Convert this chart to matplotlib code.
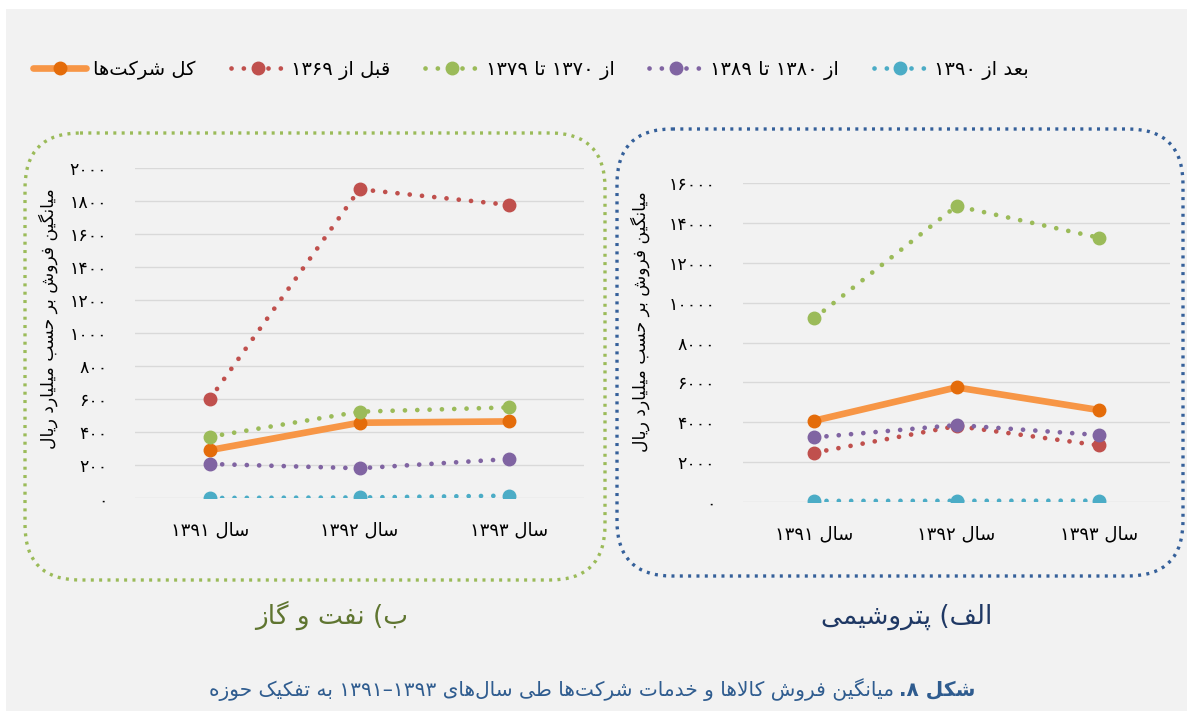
import re
import matplotlib
matplotlib.use("Agg")
import matplotlib.pyplot as plt
from matplotlib.patches import FancyBboxPatch, Rectangle
from matplotlib.ticker import FuncFormatter, MultipleLocator

# --- data -------------------------------------------------------------
years = ["سال ۱۳۹۱", "سال ۱۳۹۲", "سال ۱۳۹۳"]
series_names = ["کل شرکت‌ها", "قبل از ۱۳۶۹", "از ۱۳۷۰ تا ۱۳۷۹",
                "از ۱۳۸۰ تا ۱۳۸۹", "بعد از ۱۳۹۰"]

# oil & gas (left)
oil_total = [292, 458, 466]
oil_before_1369 = [602, 1873, 1778]
oil_1370_1379 = [373, 525, 551]
oil_1380_1389 = [208, 182, 238]
oil_after_1390 = [2, 5, 16]

# petrochemical (right)
petro_total = [4070, 5744, 4607]
petro_before_1369 = [2462, 3802, 2831]
petro_1370_1379 = [9213, 14858, 13266]
petro_1380_1389 = [3233, 3853, 3350]
petro_after_1390 = [40, 45, 50]

y_label = "میانگین فروش بر حسب میلیارد ریال"
title_oil = "ب) نفت و گاز"
title_petro = "الف) پتروشیمی"
caption_bold = "شکل ۸."
caption_rest = "میانگین فروش کالاها و خدمات شرکت‌ها طی سال‌های ۱۳۹۳–۱۳۹۱ به تفکیک حوزه"

# --- minimal arabic/persian shaping (matplotlib has no text shaping) ----
FORMS = {
    'ا': (0xFE8D, 0xFE8E, None, None), 'آ': (0xFE81, 0xFE82, None, None),
    'ب': (0xFE8F, 0xFE90, 0xFE91, 0xFE92), 'پ': (0xFB56, 0xFB57, 0xFB58, 0xFB59),
    'ت': (0xFE95, 0xFE96, 0xFE97, 0xFE98), 'ث': (0xFE99, 0xFE9A, 0xFE9B, 0xFE9C),
    'ج': (0xFE9D, 0xFE9E, 0xFE9F, 0xFEA0), 'چ': (0xFB7A, 0xFB7B, 0xFB7C, 0xFB7D),
    'ح': (0xFEA1, 0xFEA2, 0xFEA3, 0xFEA4), 'خ': (0xFEA5, 0xFEA6, 0xFEA7, 0xFEA8),
    'د': (0xFEA9, 0xFEAA, None, None), 'ذ': (0xFEAB, 0xFEAC, None, None),
    'ر': (0xFEAD, 0xFEAE, None, None), 'ز': (0xFEAF, 0xFEB0, None, None),
    'ژ': (0xFB8A, 0xFB8B, None, None),
    'س': (0xFEB1, 0xFEB2, 0xFEB3, 0xFEB4), 'ش': (0xFEB5, 0xFEB6, 0xFEB7, 0xFEB8),
    'ص': (0xFEB9, 0xFEBA, 0xFEBB, 0xFEBC), 'ض': (0xFEBD, 0xFEBE, 0xFEBF, 0xFEC0),
    'ط': (0xFEC1, 0xFEC2, 0xFEC3, 0xFEC4), 'ظ': (0xFEC5, 0xFEC6, 0xFEC7, 0xFEC8),
    'ع': (0xFEC9, 0xFECA, 0xFECB, 0xFECC), 'غ': (0xFECD, 0xFECE, 0xFECF, 0xFED0),
    'ف': (0xFED1, 0xFED2, 0xFED3, 0xFED4), 'ق': (0xFED5, 0xFED6, 0xFED7, 0xFED8),
    'ک': (0xFB8E, 0xFB8F, 0xFB90, 0xFB91), 'گ': (0xFB92, 0xFB93, 0xFB94, 0xFB95),
    'ل': (0xFEDD, 0xFEDE, 0xFEDF, 0xFEE0), 'م': (0xFEE1, 0xFEE2, 0xFEE3, 0xFEE4),
    'ن': (0xFEE5, 0xFEE6, 0xFEE7, 0xFEE8), 'و': (0xFEED, 0xFEEE, None, None),
    'ه': (0xFEE9, 0xFEEA, 0xFEEB, 0xFEEC), 'ی': (0xFBFC, 0xFBFD, 0xFBFE, 0xFBFF),
}
ZWNJ = '\u200c'
MIRROR = str.maketrans('()', ')(')


def shape(text):
    def joins_next(c):
        return c in FORMS and FORMS[c][2] is not None

    out, i, n = [], 0, len(text)
    while i < n:
        c = text[i]
        if c not in FORMS:
            if c != ZWNJ:
                out.append(c)
            i += 1
            continue
        link_prev = i > 0 and joins_next(text[i - 1])
        if c == 'ل' and i + 1 < n and text[i + 1] == 'ا':
            out.append(chr(0xFEFC if link_prev else 0xFEFB))
            i += 2
            continue
        link_next = joins_next(c) and i + 1 < n and text[i + 1] in FORMS
        iso, fin, ini, med = FORMS[c]
        if link_prev and link_next:
            cp = med
        elif link_prev:
            cp = fin
        elif link_next:
            cp = ini
        else:
            cp = iso
        out.append(chr(cp))
        i += 1
    return ''.join(out)


def rtl(text):
    s = shape(text)[::-1].translate(MIRROR)
    return re.sub('[۰-۹0-9]+', lambda m: m.group(0)[::-1], s)


def fa_digits(v, pos=None):
    return str(int(round(v))).translate(str.maketrans('0123456789', '۰۱۲۳۴۵۶۷۸۹'))


# --- figure -----------------------------------------------------------
W, H = 1193, 717
plt.rcParams['font.family'] = ['DejaVu Sans']
fig = plt.figure(figsize=(W / 100, H / 100), dpi=100, facecolor='white')

# pixel-space overlay for background, frames and free text
bg = fig.add_axes([0, 0, 1, 1])
bg.set_xlim(0, W)
bg.set_ylim(H, 0)
bg.axis('off')
bg.add_patch(Rectangle((6, 9), W - 12, H - 15, facecolor='#f2f2f2', edgecolor='none'))

box_style = 'round,pad=0,rounding_size=55'
bg.add_patch(FancyBboxPatch((25, 133), 580, 447, boxstyle=box_style, fill=False,
                            edgecolor='#9bbb59', lw=2.4, linestyle=(0, (0.9, 1.6))))
bg.add_patch(FancyBboxPatch((617, 129), 566, 447, boxstyle=box_style, fill=False,
                            edgecolor='#35609a', lw=2.4, linestyle=(0, (0.9, 1.6))))

colors = ['#f79646', '#c0504d', '#9bbb59', '#8064a2', '#4bacc6']
marker_colors = ['#e46c0a', '#c0504d', '#9bbb59', '#8064a2', '#4bacc6']
dot_style = (0, (0.01, 2.6))


def panel(rect, series, ymax, step):
    x0, ytop, x1, ybot = rect
    ax = fig.add_axes([x0 / W, 1 - ybot / H, (x1 - x0) / W, (ybot - ytop) / H])
    ax.set_facecolor('none')
    xs = range(len(years))
    lines = []
    for k, vals in enumerate(series):
        if k == 0:
            ln, = ax.plot(xs, vals, color=colors[k], lw=4.8, marker='o', ms=9,
                          mfc=marker_colors[k], mec=marker_colors[k],
                          solid_capstyle='round', zorder=3, label=rtl(series_names[k]))
        else:
            ln, = ax.plot(xs, vals, color=colors[k], lw=3.4, linestyle=dot_style,
                          dash_capstyle='round', marker='o', ms=9,
                          mfc=marker_colors[k], mec=marker_colors[k],
                          zorder=3, label=rtl(series_names[k]))
        lines.append(ln)
    ax.set_xlim(-0.5, len(years) - 0.5)
    ax.set_ylim(0, ymax)
    ax.yaxis.set_major_locator(MultipleLocator(step))
    ax.yaxis.set_major_formatter(FuncFormatter(fa_digits))
    ax.set_xticks(list(xs))
    ax.set_xticklabels([rtl(y) for y in years])
    ax.grid(axis='y', color='#d9d9d9', lw=1.0)
    ax.set_axisbelow(True)
    for s in ax.spines.values():
        s.set_visible(False)
    ax.tick_params(axis='y', length=0, labelsize=12.5, pad=20)
    ax.tick_params(axis='x', length=0, labelsize=13, pad=17)
    return ax, lines


ax_oil, handles = panel((135, 168.3, 584, 498.3),
                        [oil_total, oil_before_1369, oil_1370_1379, oil_1380_1389, oil_after_1390],
                        2000, 200)
ax_petro, _ = panel((743, 183.3, 1170, 501.7),
                    [petro_total, petro_before_1369, petro_1370_1379, petro_1380_1389, petro_after_1390],
                    16000, 2000)

# y-axis titles
bg.text(48, 319, rtl(y_label), rotation=90, ha='center', va='center', fontsize=12.3)
bg.text(640, 322, rtl(y_label), rotation=90, ha='center', va='center', fontsize=12.3)

# panel titles
bg.text(332, 615, rtl(title_oil), ha='center', va='center', fontsize=19, color='#5f7530')
bg.text(907, 617, rtl(title_petro), ha='center', va='center', fontsize=19, color='#1f3864')

# legend across the top
fig.legend(handles=handles, loc='center left', bbox_to_anchor=(33 / W, 1 - 70 / H),
           ncol=5, frameon=False, fontsize=14, handlelength=2.75, handletextpad=0.35,
           columnspacing=1.8, borderaxespad=0, borderpad=0, numpoints=1)

# caption: bold figure number on the right, rest to its left
cap_color = '#2f5c8f'
tb = bg.text(975, 690, rtl(caption_bold), ha='right', va='center', fontsize=14.5,
             fontweight='bold', color=cap_color)
fig.canvas.draw()
bb = tb.get_window_extent()
bg.text(bb.x0 - 5, 690, rtl(caption_rest), ha='right', va='center', fontsize=14.5,
        color=cap_color)

fig.savefig('out.png', dpi=100, facecolor='white')
